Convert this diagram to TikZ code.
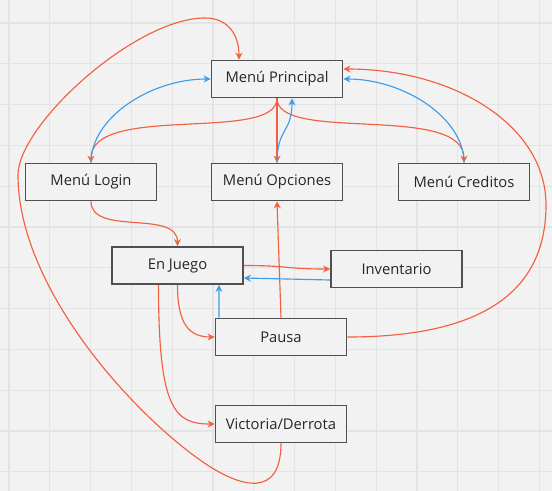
\documentclass[tikz,border=0pt]{standalone}
\usepackage{fontspec}
\setmainfont{Open Sans}
\usetikzlibrary{arrows.meta,calc}
\definecolor{bgcol}{HTML}{F2F2F2}
\definecolor{gridcol}{HTML}{E4E4E4}
\definecolor{linered}{HTML}{F2603F}
\definecolor{lineblue}{HTML}{3C9EEA}
\definecolor{boxline}{HTML}{505050}
\tikzstyle{screen}=[rectangle,draw=boxline,fill=bgcol,line width=1pt,minimum width=2.62cm,minimum height=0.74cm,inner sep=0pt,font=\fontsize{8.4}{10}\selectfont,text=black!85]
\tikzstyle{redge} = [draw,linered,line width=0.65pt,-{Stealth[length=4pt,width=4pt]}]
\tikzstyle{bedge} = [draw,lineblue,line width=0.65pt,-{Stealth[length=4pt,width=4pt]}]

\begin{document}
\begin{tikzpicture}[x=0.02cm,y=-0.02cm]
    \useasboundingbox (0,0) rectangle (552,491);
    % Board background and grid
    \fill[bgcol] (0,0) rectangle (552,491);
    \foreach \g in {0,...,13}
        \draw[gridcol,line width=0.6pt] (9+40.8*\g,0) -- (9+40.8*\g,491);
    \foreach \g in {0,...,11}
        \draw[gridcol,line width=0.6pt] (0,23+40.8*\g) -- (552,23+40.8*\g);

    % First we draw the screens
    \foreach \pos/ \name/ \txt in {{(277,79)/mp/Menú Principal},{(91,182)/login/Menú Login},
        {(277,182)/opciones/Menú Opciones},{(464,182)/creditos/Menú Creditos}}
        \node[screen] (\name) at \pos {\txt};

    \foreach \pos/ \name/ \txt in {{(177.5,265.5)/juego/En Juego},{(396.5,269)/inventario/Inventario},
        {(281,337)/pausa/Pausa},{(281,424)/fin/{Victoria/Derrota}}}
        \node[screen] (\name) at \pos {\txt};

    % Connect screens: out of the main menu and back
    \path[redge] (mp.south) .. controls +(0,45) and +(0,-60) .. (login.north);
    \path[redge] (mp.south) -- (opciones.north);
    \path[redge] (mp.south) .. controls +(0,45) and +(0,-60) .. (creditos.north);
    \path[bedge] (login.north) .. controls +(0,-45) and +(-60,0) .. (mp.west);
    \path[bedge] (creditos.north) .. controls +(0,-45) and +(60,0) .. (mp.east);
    \path[bedge] (opciones.north) .. controls +(0,-35) and +(0,35) .. ($(mp.south)+(15,0)$);

    % Game flow
    \path[redge] (login.south) .. controls +(0,35) and +(0,-37) .. (juego.north);
    \path[redge] (juego.east) .. controls +(45,0) and +(-45,0) .. (inventario.west);
    \path[bedge] ($(inventario.west)+(0,11)$) -- ($(juego.east)+(0,12.5)$);
    \path[redge] (juego.south) .. controls +(0,40) and +(-25,0) .. (pausa.west);
    \path[redge] ($(juego.south)+(-19,0)$) .. controls +(0,125) and +(-40,0) .. (fin.west);
    \path[bedge] ($(pausa.north)+(-62,0)$) -- ($(juego.south)+(41.5,0)$);
    \path[redge] (pausa.north) -- (opciones.south);

    % Long ways back to the main menu
    \coordinate (rgt) at (546,205);
    \path[redge] (pausa.east) .. controls +(130,0) and +(0,90) .. (rgt)
        .. controls +(0,-80) and +(110,0) .. ($(mp.east)+(0,-10)$);
    \coordinate (lpa) at (200,460);
    \coordinate (lpl) at (18,175);
    \coordinate (lpt) at (205,18);
    \path[redge] (fin.south) .. controls +(0,55) and +(41,29) .. (lpa)
        .. controls +(-73,-52) and +(0,110) .. (lpl)
        .. controls +(0,-50) and +(-70,0) .. (lpt)
        .. controls +(23,0) and +(0,-25) .. ($(mp.north)+(-38,0)$);
\end{tikzpicture}
\end{document}
